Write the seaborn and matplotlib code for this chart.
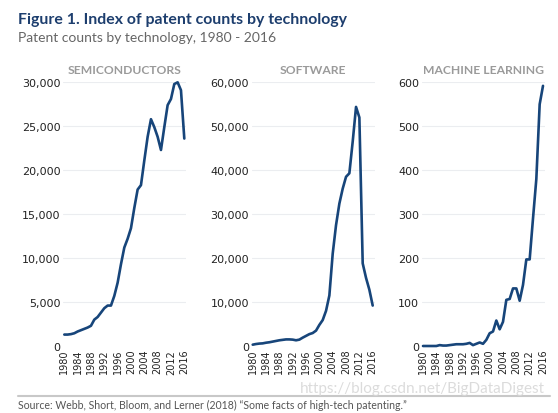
import matplotlib
matplotlib.use("Agg")
import matplotlib.pyplot as plt
import pandas as pd
import seaborn as sns

years = list(range(1980, 2017))

semiconductors = [1300, 1300, 1350, 1450, 1650, 1800, 1950, 2100, 2300, 3000,
                  3300, 3800, 4300, 4600, 4600, 5700, 7200, 9300, 11200, 12200,
                  13400, 15700, 17800, 18300, 21100, 23800, 25800, 24900, 23800, 22300,
                  24900, 27400, 28100, 29800, 30000, 29100, 23600]

software = [300, 450, 550, 600, 750, 850, 1000, 1150, 1300, 1400,
            1500, 1500, 1450, 1300, 1450, 1900, 2300, 2700, 2950, 3500,
            4800, 5900, 8000, 11500, 21000, 27500, 32400, 35800, 38500, 39300,
            46500, 54400, 52000, 18800, 15500, 12800, 9200]

machine_learning = [0, 0, 0, 0, 0, 2, 1, 1, 2, 3,
                    4, 4, 4, 5, 7, 2, 5, 8, 5, 14,
                    29, 33, 58, 38, 55, 105, 107, 131, 131, 103,
                    139, 197, 197, 290, 380, 550, 592]

panel_titles = ["SEMICONDUCTORS", "SOFTWARE", "MACHINE LEARNING"]
y_tops = [30000, 60000, 600]
y_steps = [5000, 10000, 100]
x_ticks = [1980, 1984, 1988, 1992, 1996, 2000, 2004, 2008, 2012, 2016]

sns.set_style("white")
plt.rcParams["font.family"] = ["Lato", "DejaVu Sans"]

W, H = 558, 414
fig = plt.figure(figsize=(W / 100, H / 100), dpi=100)

LINE = "#17457a"
GRID = "#ebedf0"
TICKFONT = "DejaVu Sans"

# axes positions in pixels
lefts = [63.3, 251.7, 422.0]
ax_w = 123
top_px, bot_px = 83.3, 347

df = pd.DataFrame({"year": years,
                   "SEMICONDUCTORS": semiconductors,
                   "SOFTWARE": software,
                   "MACHINE LEARNING": machine_learning})

for left, title, ytop, ystep in zip(lefts, panel_titles, y_tops, y_steps):
    ax = fig.add_axes([left / W, 1 - bot_px / H, ax_w / W, (bot_px - top_px) / H])
    sns.lineplot(data=df, x="year", y=title, ax=ax, color=LINE,
                 linewidth=1.9, clip_on=False)
    ax.set_xlim(1979.7, 2016.6)
    ax.set_ylim(0, ytop)
    yt = list(range(0, ytop + 1, ystep))
    ax.set_yticks(yt)
    ax.set_yticklabels([f"{v:,}" for v in yt], fontsize=8, color="#222222",
                       family=TICKFONT)
    ax.set_xticks(x_ticks)
    ax.set_xticklabels([str(x) for x in x_ticks], rotation=90, fontsize=7,
                       color="#222222", family=TICKFONT)
    ax.tick_params(length=0, pad=2)
    for v in yt[1:]:
        ax.axhline(v, color=GRID, linewidth=0.8, zorder=0)
    for s in ax.spines.values():
        s.set_visible(False)
    ax.set_xlabel("")
    ax.set_ylabel("")
    fig.text((left + ax_w / 2) / W, 1 - 71 / H, title, ha="center",
             va="center", fontsize=8.7, fontweight="bold", color="#9a9a9a")

fig.text(18 / W, 1 - 20 / H, "Figure 1. Index of patent counts by technology",
         ha="left", va="center", fontsize=11.4, fontweight="bold",
         color="#1d3e6e")
fig.text(18 / W, 1 - 38 / H, "Patent counts by technology, 1980 - 2016",
         ha="left", va="center", fontsize=10, color="#666666")

fig.add_artist(plt.Line2D([18 / W, 550 / W], [1 - 397 / H, 1 - 397 / H],
                          color="#c8c8c8", linewidth=1.5))
fig.text(300 / W, 1 - 389 / H, "https://blog.csdn.net/BigDataDigest",
         ha="left", va="center", fontsize=11, color="#d8d8d8", alpha=0.9)
fig.text(18 / W, 1 - 405 / H,
         "Source: Webb, Short, Bloom, and Lerner (2018) \u201cSome facts of high-tech patenting.\u201d",
         ha="left", va="center", fontsize=7.6, color="#555555")

fig.savefig("out.png", dpi=100)
